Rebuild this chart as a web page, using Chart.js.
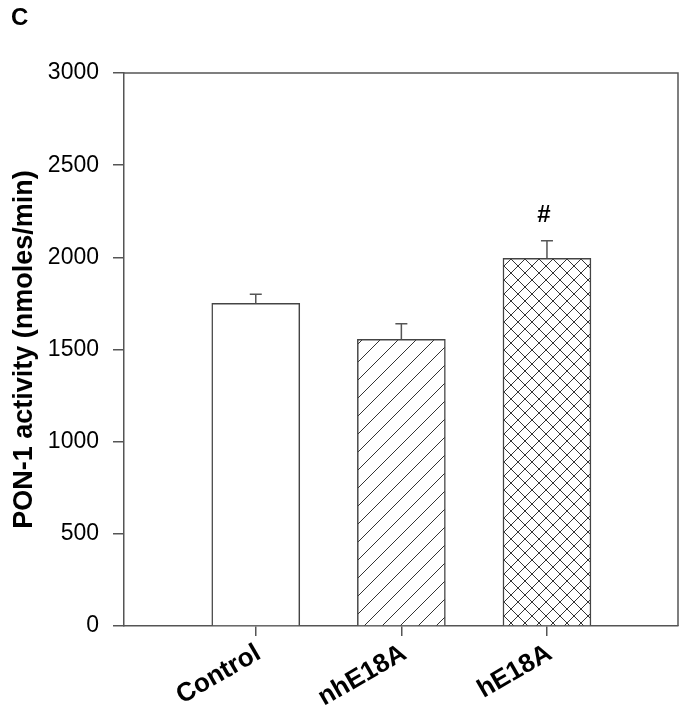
<!DOCTYPE html>
<html>
<head>
<meta charset="utf-8">
<script src="https://cdn.jsdelivr.net/npm/chart.js@4.4.0/dist/chart.umd.min.js"></script>
<style>
  html, body { margin: 0; padding: 0; background: #fff; }
  #wrap { position: relative; width: 685px; height: 718px; }
</style>
</head>
<body>
<div id="wrap"><canvas id="ponChart" width="685" height="718"></canvas></div>
<script>
// Chart data
const groups = ['Control', 'nhE18A', 'hE18A'];
const activity = [1750, 1555, 1995];
const errors = [50, 85, 95];
const marks = ['', '', '#'];
const yTicks = [0, 500, 1000, 1500, 2000, 2500, 3000];

const axisColor = '#555';
const fontFamily = 'Arial, "Liberation Sans", sans-serif';

// Build fill patterns for the bars
function makePattern(kind, size) {
    const c = document.createElement('canvas');
    c.width = size;
    c.height = size;
    const g = c.getContext('2d');
    g.fillStyle = '#fff';
    g.fillRect(0, 0, size, size);
    if (kind === 'none') return g.createPattern(c, 'repeat');
    g.strokeStyle = '#333';
    g.lineWidth = 1;
    g.beginPath();
    // "/" lines
    g.moveTo(-1, size + 1); g.lineTo(size + 1, -1);
    g.moveTo(-size / 2 - 1, size / 2 + 1); g.lineTo(size / 2 + 1, -size / 2 - 1);
    g.moveTo(size / 2 - 1, size * 1.5 + 1); g.lineTo(size * 1.5 + 1, size / 2 - 1);
    if (kind === 'cross') {
        // "\" lines
        g.moveTo(-1, -1); g.lineTo(size + 1, size + 1);
        g.moveTo(size / 2 - 1, -size / 2 - 1); g.lineTo(size * 1.5 + 1, size / 2 + 1);
        g.moveTo(-size / 2 - 1, size / 2 - 1); g.lineTo(size / 2 + 1, size * 1.5 + 1);
    }
    g.stroke();
    return g.createPattern(c, 'repeat');
}

const ctx = document.getElementById('ponChart').getContext('2d');
const fills = [makePattern('none', 8), makePattern('diag', 18), makePattern('cross', 14)];

// Frame, error bars and marks
const extrasPlugin = {
    id: 'extras',
    afterDatasetsDraw(chart) {
        const c = chart.ctx;
        const area = chart.chartArea;
        const xs = chart.scales.x;
        const ys = chart.scales.y;
        c.save();
        c.strokeStyle = axisColor;
        c.lineWidth = 1.5;
        c.beginPath();
        c.moveTo(area.left, area.top);
        c.lineTo(area.right, area.top);
        c.lineTo(area.right, area.bottom);
        c.stroke();

        activity.forEach((v, i) => {
            const x = xs.getPixelForValue(i);
            const yTop = ys.getPixelForValue(v);
            const yErr = ys.getPixelForValue(v + errors[i]);
            c.beginPath();
            c.moveTo(x, yTop);
            c.lineTo(x, yErr);
            c.moveTo(x - 6, yErr);
            c.lineTo(x + 6, yErr);
            c.stroke();
            if (marks[i]) {
                c.fillStyle = '#000';
                c.font = 'bold 24px ' + fontFamily;
                c.textAlign = 'center';
                c.textBaseline = 'middle';
                c.fillText(marks[i], x - 3, yErr - 25);
            }
        });

        c.fillStyle = '#000';
        c.font = 'bold 24px ' + fontFamily;
        c.textAlign = 'left';
        c.textBaseline = 'middle';
        c.fillText('C', 11, 18);
        c.restore();
    }
};

new Chart(ctx, {
    type: 'bar',
    data: {
        datasets: [{
            data: activity.map((v, i) => ({ x: i, y: v })),
            backgroundColor: fills,
            borderColor: '#444',
            borderWidth: 1.5,
            borderSkipped: 'bottom',
            barThickness: 88
        }]
    },
    plugins: [extrasPlugin],
    options: {
        responsive: false,
        animation: false,
        layout: {
            padding: { top: 73, right: 7, left: 0, bottom: 0 }
        },
        plugins: {
            legend: { display: false },
            tooltip: { enabled: false }
        },
        scales: {
            x: {
                type: 'linear',
                offset: false,
                min: -0.905,
                max: 2.9,
                afterBuildTicks: scale => {
                    scale.ticks = groups.map((g, i) => ({ value: i }));
                },
                afterFit: scale => { scale.height = 92; },
                grid: {
                    offset: false,
                    drawOnChartArea: false,
                    color: axisColor,
                    tickLength: 10,
                    lineWidth: 1.5
                },
                border: { color: axisColor, width: 1.5 },
                ticks: {
                    autoSkip: false,
                    maxRotation: 30,
                    minRotation: 30,
                    padding: 2,
                    labelOffset: 3,
                    color: '#000',
                    font: { family: fontFamily, size: 26, weight: 'bold' },
                    callback: value => groups[value]
                }
            },
            y: {
                min: 0,
                max: 3000,
                afterBuildTicks: scale => {
                    scale.ticks = yTicks.map(v => ({ value: v }));
                },
                afterFit: scale => { scale.width = 124; },
                grid: {
                    drawOnChartArea: false,
                    color: axisColor,
                    tickLength: 11,
                    lineWidth: 1.5
                },
                border: { color: axisColor, width: 1.5 },
                ticks: {
                    padding: 14,
                    color: '#000',
                    font: { family: fontFamily, size: 23 },
                    callback: value => String(value)
                },
                title: {
                    display: true,
                    text: 'PON-1 activity (nmoles/min)',
                    color: '#000',
                    font: { family: fontFamily, size: 27, weight: 'bold' },
                    padding: { top: 8, bottom: 0 }
                }
            }
        }
    }
});
</script>
</body>
</html>
